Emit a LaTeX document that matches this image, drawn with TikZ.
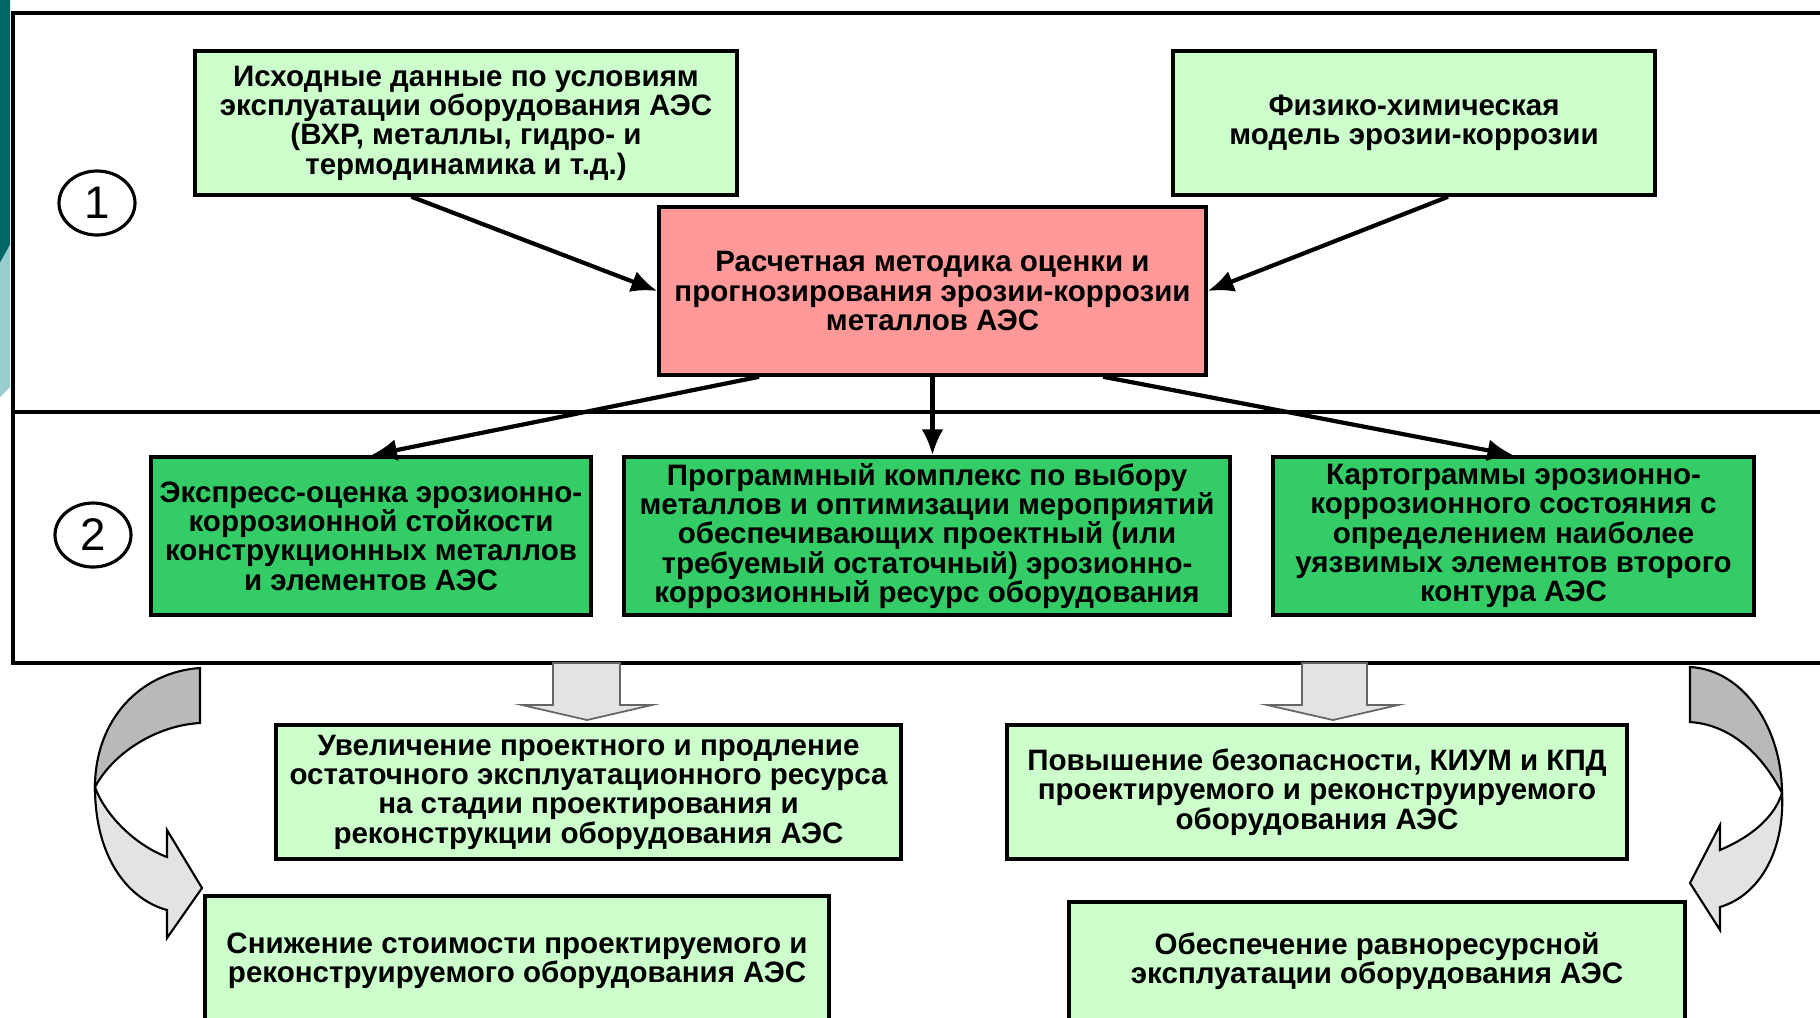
\documentclass[tikz,border=0pt]{standalone}
\usepackage{fontspec}
\setmainfont{Liberation Sans}
\usetikzlibrary{arrows.meta, shapes.geometric, calc}
\definecolor{paleg}{RGB}{204,255,204}
\definecolor{darkg}{RGB}{51,204,102}
\definecolor{pinkred}{RGB}{255,153,153}
\definecolor{tealdark}{RGB}{0,102,102}
\definecolor{teallight}{RGB}{153,204,204}

\begin{document}
\begin{tikzpicture}[x=0.1mm, y=-0.1mm,
    box/.style={rectangle, draw=black, line width=1pt, align=center, inner sep=1pt,
                font=\fontsize{8.4}{8.35}\selectfont\bfseries},
    lbox/.style={box, fill=paleg},
    gbox/.style={box, fill=darkg},
    rbox/.style={box, fill=pinkred},
    num/.style={ellipse, draw, line width=0.9pt, minimum width=7.6mm,
                minimum height=6.4mm, inner sep=0pt, font=\fontsize{13}{13}\selectfont},
    arr/.style={-{Latex[length=2.6mm,width=2.2mm]}, line width=1.2pt},
    frm/.style={line width=1.1pt},
    blk/.style={draw=gray!80!black, line width=0.5pt, fill=gray!22},
    turn/.style={draw=black, line width=0.6pt},
]
\useasboundingbox (0,0) rectangle (1820,1017);
\clip (0,0) rectangle (1820,1017);

% side bar
\fill[tealdark] (0,0) -- (10,0) -- (10,245) -- (0,263) -- cycle;
\fill[teallight] (0,263) -- (10,245) -- (10,387) -- (0,397) -- cycle;

% frame
\draw[frm] (1820,13) -- (13,13) -- (13,663) -- (1820,663);
\draw[frm] (13,412) -- (1820,412);

\node[num] (n1) at (97,203) {1};
\node[num] (n2) at (93,535) {2};

% level 1
\node[lbox, minimum width=54.2mm, minimum height=14.4mm] (src) at (466,123)
    {Исходные данные по условиям\\эксплуатации оборудования АЭС\\(ВХР, металлы, гидро- и\\термодинамика и т.д.)};
\node[lbox, minimum width=48.2mm, minimum height=14.4mm] (mdl) at (1414,123)
    {Физико-химическая\\модель эрозии-коррозии};
\node[rbox, minimum width=54.7mm, minimum height=16.8mm] (calc) at (932.5,291)
    {Расчетная методика оценки и\\прогнозирования эрозии-коррозии\\металлов АЭС};

% level 2
\node[gbox, minimum width=44mm, minimum height=15.8mm] (expr) at (371,536)
    {Экспресс-оценка эрозионно-\\коррозионной стойкости\\конструкционных металлов\\и элементов АЭС};
\node[gbox, minimum width=60.6mm, minimum height=15.8mm] (prog) at (927,536)
    {Программный комплекс по выбору\\металлов и оптимизации мероприятий\\обеспечивающих проектный (или\\требуемый остаточный) эрозионно-\\коррозионный ресурс оборудования};
\node[gbox, minimum width=48.1mm, minimum height=15.8mm] (kart) at (1513.5,536)
    {Картограммы эрозионно-\\коррозионного состояния с\\определением наиболее\\уязвимых элементов второго\\контура АЭС};

% results
\node[lbox, minimum width=62.5mm, minimum height=13.4mm] (res) at (588.5,792)
    {Увеличение проектного и продление\\остаточного эксплуатационного ресурса\\на стадии проектирования и\\реконструкции оборудования АЭС};
\node[lbox, minimum width=62mm, minimum height=13.4mm] (safe) at (1317,792)
    {Повышение безопасности, КИУМ и КПД\\проектируемого и реконструируемого\\оборудования АЭС};
\node[lbox, minimum width=62.4mm, minimum height=13mm] (cost) at (517,961)
    {Снижение стоимости проектируемого и\\реконструируемого оборудования АЭС};
\node[lbox, minimum width=61.6mm, minimum height=11.8mm] (eqr) at (1377,961)
    {Обеспечение равноресурсной\\эксплуатации оборудования АЭС};

% arrows
\draw[arr] ($(src.south west)!.40!(src.south east)$) -- (calc.west);
\draw[arr] ($(mdl.south west)!.57!(mdl.south east)$) -- (calc.east);
\draw[arr] ($(calc.south west)!.185!(calc.south east)$) -- (expr.north);
\draw[arr] (calc.south) -- (calc.south |- prog.north);
\draw[arr] ($(calc.south west)!.81!(calc.south east)$) -- (kart.north);

% block arrows
\draw[blk] (553,663) -- (620,663) -- (620,705) -- (652,705) -- (587,720)
    -- (522,705) -- (553,705) -- cycle;
\draw[blk] (1302,663) -- (1367,663) -- (1367,705) -- (1398,705) -- (1333,720)
    -- (1267,705) -- (1302,705) -- cycle;

% turning arrows
\draw[turn, fill=gray!55] (200,668) .. controls (140,672) and (95,720) .. (95,787)
    .. controls (115,750) and (160,725) .. (200,723) -- cycle;
\draw[turn, fill=gray!22] (95,787) .. controls (95,860) and (130,900) .. (167,910)
    -- (167,938) -- (202,888) -- (167,830) -- (167,857)
    .. controls (135,845) and (105,815) .. (95,787) -- cycle;
\draw[turn, fill=gray!55] (1690,667) .. controls (1745,670) and (1782,730) .. (1782,793)
    .. controls (1765,760) and (1735,725) .. (1690,722) -- cycle;
\draw[turn, fill=gray!22] (1782,793) .. controls (1785,850) and (1760,895) .. (1720,907)
    -- (1720,930) -- (1690,883) -- (1720,825) -- (1720,850)
    .. controls (1755,835) and (1775,815) .. (1782,793) -- cycle;

\end{tikzpicture}
\end{document}
